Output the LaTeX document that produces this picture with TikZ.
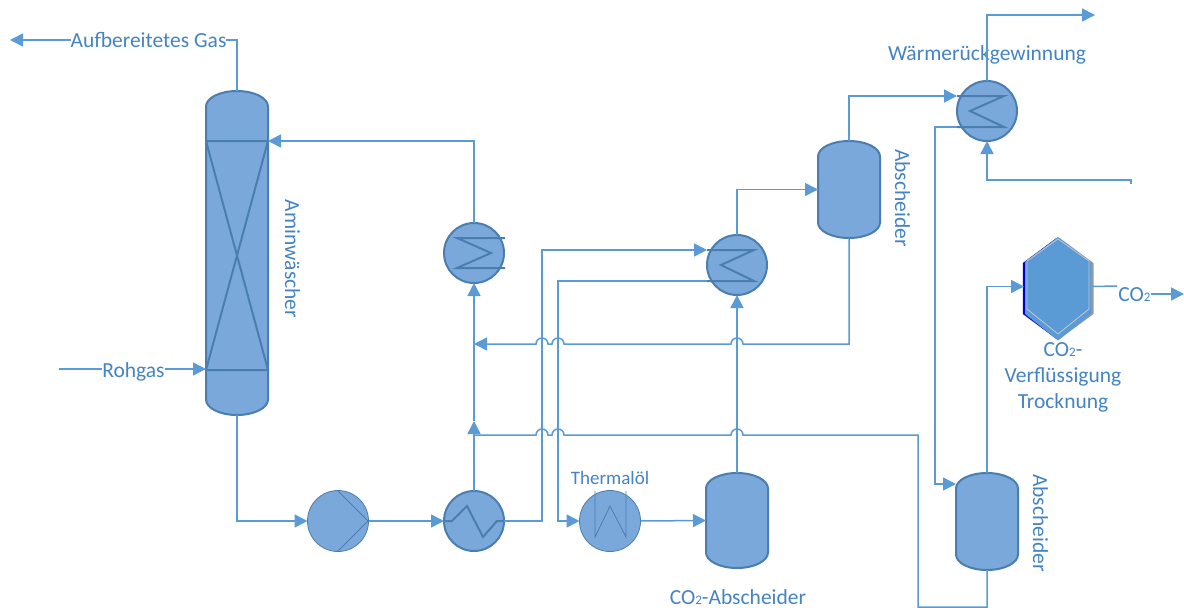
\documentclass[tikz,border=0pt]{standalone}
\usepackage{fontspec}
\setmainfont{Carlito}
\usetikzlibrary{arrows.meta}
\definecolor{flowc}{HTML}{5B9BD5}
\definecolor{fillc}{HTML}{7BA8DB}
\definecolor{edgec}{HTML}{4A7EB0}
\definecolor{textc}{HTML}{4584C2}
\newcommand{\subtwo}{{\fontsize{13}{13}\selectfont 2}}
\newcommand{\vessel}[1]{\path[vesselbody] ([yshift=-15.5pt]#1.north west) arc[start angle=180,end angle=0,x radius=31pt,y radius=15.5pt] -- ([yshift=15.5pt]#1.south east) arc[start angle=0,end angle=-180,x radius=31pt,y radius=15.5pt] -- cycle;}
\tikzset{
  flow/.style={draw=flowc,line width=1.5pt},
  flowarrow/.style={flow,-{Triangle[length=13pt,width=13pt,color=flowc]}},
  vesselbox/.style={rectangle,draw=none,inner sep=0pt,outer sep=0pt,minimum width=62pt},
  vesselbody/.style={fill=fillc,draw=edgec,line width=2pt},
  hxc/.style={circle,fill=fillc,draw=edgec,line width=2pt,inner sep=0pt,outer sep=0pt,minimum size=60pt},
  thinc/.style={circle,fill=fillc,draw=edgec,line width=0.8pt,inner sep=0pt,outer sep=0pt,minimum size=61pt},
  coil/.style={draw=edgec,line width=2pt},
  thincoil/.style={draw=edgec,line width=0.8pt},
  lbl/.style={text=textc,font=\fontsize{21.5}{25}\selectfont,inner sep=0pt,outer sep=0pt,text height=14pt,text depth=0pt},
}
\begin{document}
\begin{tikzpicture}[x=1pt,y=-1pt]
\useasboundingbox[fill=white] (0,0) rectangle (1184,608);

% ---------- equipment ----------
\node[vesselbox,minimum height=324pt] (col) at (237,253) {};
\vessel{col}
\draw[coil] (206,141) -- (268,141) (206,370) -- (268,370) (206,141) -- (268,370) (268,141) -- (206,370);
\node[vesselbox,minimum height=97pt] (sep1) at (849,189.5) {};
\vessel{sep1}
\node[vesselbox,minimum height=95pt] (sep2) at (737,520.5) {};
\vessel{sep2}
\node[vesselbox,minimum height=97pt] (sep3) at (987,521.5) {};
\vessel{sep3}

\node[thinc] (pump) at (338,521) {};
\draw[thincoil] (338,491) -- (368,521) -- (338,551);
\node[hxc] (hx4) at (474,521) {};
\draw[coil] (444,521) -- (452,521) -- (467,506) -- (483,537) -- (497,521) -- (505,521);
\node[thinc] (therm) at (610,521) {};
\draw[thincoil] (595,491) -- (595,537) -- (610,506) -- (626,537) -- (626,491);
\node[hxc] (hx1) at (474,253) {};
\draw[coil] (505,238) -- (457,238) -- (491,253) -- (457,268) -- (505,268);
\node[hxc] (hx2) at (737,265) {};
\draw[coil] (707,250) -- (754,250) -- (721,265) -- (754,281) -- (707,281);
\node[hxc] (hx3) at (987,111) {};
\draw[coil] (957,96) -- (1004,96) -- (970,111) -- (1004,127) -- (957,127);

% liquefaction hexagon
\node[rectangle,draw=none,inner sep=0pt,outer sep=0pt,minimum width=68pt,minimum height=103pt] (liq) at (1058,288.5) {};
\fill[gray!80] (1059.5,238) -- (1093.5,263) -- (1093.5,314) -- (1059.5,339) -- (1025.5,314) -- (1025.5,263) -- cycle;
\fill[blue!80!black] (1056.5,238) -- (1022.8,263) -- (1022.8,314) -- (1056.5,339) -- (1040,300) -- cycle;
\fill[flowc] (1058,237) -- (1091,262) -- (1091,314) -- (1058,340.5) -- (1025,314) -- (1025,262) -- cycle;
\draw[gray!45,line width=0.8pt] (1058,239) -- (1089,261) -- (1089,309) -- (1058,334) -- (1027,309) -- (1027,261) -- cycle;

% ---------- texts ----------
\node[lbl] (tgas) at (148.5,40) {Aufbereitetes Gas};
\node[lbl] (troh) at (133.5,370) {Rohgas};
\node[lbl,rotate=-90] at (292,259) {Aminwäscher};
\node[lbl,rotate=-90] at (902,198) {Abscheider};
\node[lbl,rotate=-90] at (1040,523) {Abscheider};
\node[lbl] at (987,53) {Wärmerückgewinnung};
\node[lbl,font=\fontsize{19}{22}\selectfont] at (610,477) {Thermalöl};
\node[lbl] at (738,597) {CO\subtwo-Abscheider};
\node[lbl] (tco) at (1134.5,294) {CO\subtwo};
\node[lbl] at (1063,349) {CO\subtwo-};
\node[lbl] at (1063,375) {Verflüssigung};
\node[lbl] at (1063,401) {Trocknung};

% ---------- free ends ----------
\coordinate (gasout) at (10,40);
\coordinate (rohin) at (59,369);
\coordinate (heatout) at (1095,15);
\coordinate (heatin) at (1131,180);
\coordinate (heatend) at (1131,184);
\coordinate (coout) at (1184,294);
\coordinate (co2stub) at (1117,286);
\coordinate (riser) at (474,421);
\coordinate (tee1) at (474,344);
\coordinate (tee2) at (474,435);
\coordinate (hx2in) at (707,250);
\coordinate (hx2out) at (707,281);
\coordinate (hx3in) at (957,96);
\coordinate (hx3out) at (957,127);

% ---------- connectors ----------
\draw[flow] (col.north) |- (tgas.east);
\draw[flowarrow] (tgas.west) -- (gasout);
\draw[flow] (rohin) -- (troh.west |- rohin);
\draw[flowarrow] (troh.east |- rohin) -- (col.west |- rohin);
\draw[flowarrow] (hx1.north) |- (268,141);
\draw[flowarrow] (col.south) |- (pump.west) ;
\draw[flowarrow] (pump.east) -- (hx4.west);
\draw[flowarrow] (hx4.north) -- (riser);
\draw[flowarrow] (riser) -- (hx1.south);
\draw[flowarrow] (hx4.east) -| (542,250) -- (hx2in);
\draw[flowarrow] (hx2out) -| (558,521) -- (therm.west);
\draw[flowarrow] (therm.east) -- (sep2.west);
\draw[flowarrow] (sep2.north) -- (hx2.south);
\draw[flowarrow] (hx2.north) |- (sep1.west);
\draw[flowarrow] (sep1.north) |- (hx3in);
\draw[flowarrow] (sep1.south) |- (743,344) arc[start angle=0,end angle=180,radius=6pt] -- (564,344) arc[start angle=0,end angle=180,radius=6pt] -- (548,344) arc[start angle=0,end angle=180,radius=6pt] -- (tee1);
\draw[flow] (sep3.south) |- (918,607) -- (918,435) -- (743,435) arc[start angle=0,end angle=180,radius=6pt] -- (564,435) arc[start angle=0,end angle=180,radius=6pt] -- (548,435) arc[start angle=0,end angle=180,radius=6pt] -- (tee2);
\draw[flowarrow] (hx3out) -| (935,484) -- (sep3.west |- 0,484);
\draw[flowarrow] (hx3.north) |- (heatout);
\draw[flowarrow] (heatend) -- (heatin) -| (hx3.south);
\draw[flowarrow] (sep3.north) |- ([yshift=2pt]liq.west);
\draw[flow] ([yshift=2pt]liq.east) -- (co2stub);
\draw[flowarrow] (tco.east |- coout) -- (coout);
\end{tikzpicture}
\end{document}
